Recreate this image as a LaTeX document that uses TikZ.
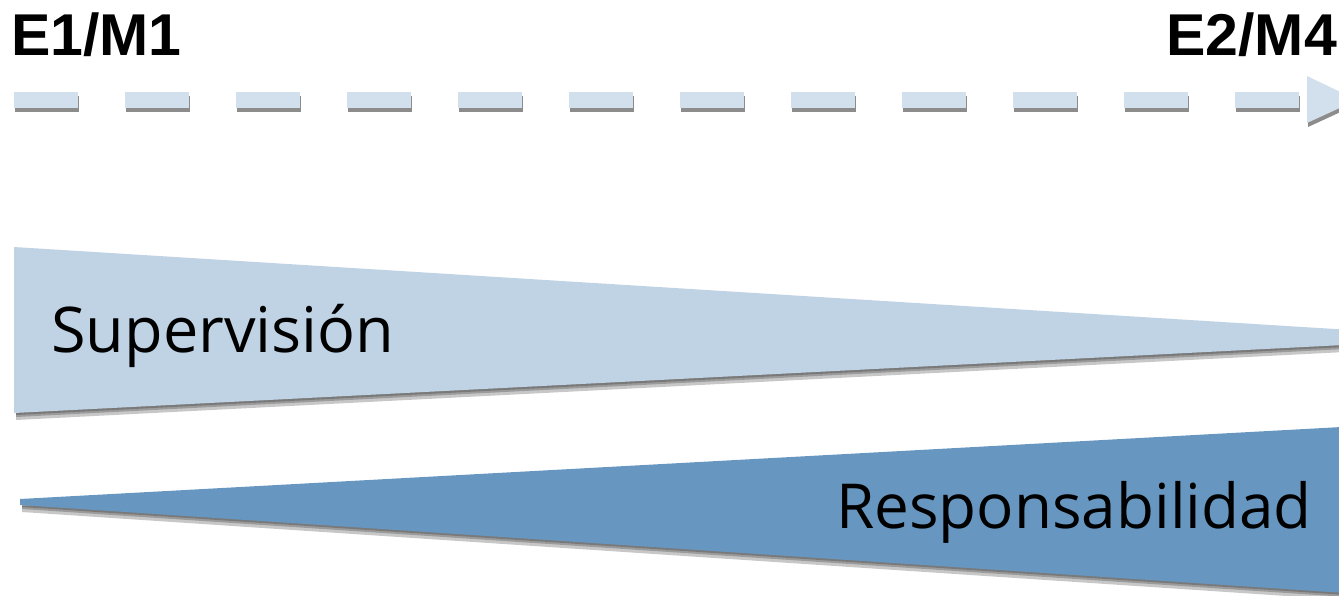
\documentclass[tikz,border=0pt]{standalone}
\usepackage{fontspec}
\setmainfont{Open Sans}
\newfontfamily\headfont{Liberation Sans}
\definecolor{lightblu}{RGB}{192,211,228}
\definecolor{dashblu}{RGB}{210,223,236}
\definecolor{darkblu}{RGB}{103,151,192}
\begin{document}
\begin{tikzpicture}[x=1pt,y=-1pt,
  shadowfill/.style={fill=black,opacity=0.22},
  headlabel/.style={inner sep=0pt,font=\headfont\bfseries\fontsize{59}{59}\selectfont},
  dashline/.style={line width=16pt,dash pattern=on 64pt off 47pt}]
\useasboundingbox (0,0) rectangle (1339,595);
\clip (0,0) rectangle (1339,595);
% timeline arrow
\coordinate (as) at (14,100);
\coordinate (ae) at (1300,100);
\coordinate (tipA) at (1307,76);
\coordinate (tipB) at (1357,100);
\coordinate (tipC) at (1307,123);
\draw[dashline,black!45] ([shift={(1,4)}]as) -- ([shift={(1,4)}]ae);
\fill[black!45] ([shift={(1,4)}]tipA) -- ([shift={(1,4)}]tipB) -- ([shift={(1,4)}]tipC) -- cycle;
\draw[dashline,dashblu] (as) -- (ae);
\fill[dashblu] (tipA) -- (tipB) -- (tipC) -- cycle;
% supervision wedge
\foreach \dy in {2,4,7}{
\begin{scope}[shift={(2,\dy)}]
  \fill[shadowfill] (14,247) -- (1480,338) -- (14,413) -- cycle;
\end{scope}}
\fill[lightblu] (14,247) -- (1480,338) -- (14,413) -- cycle;
% responsabilidad wedge
\foreach \dy in {2,4,7}{
\begin{scope}[shift={(2,\dy)}]
  \fill[shadowfill] (20,499) -- (1360,426) -- (1360,594) -- (20,505) -- cycle;
\end{scope}}
\fill[darkblu] (20,499) -- (1360,426) -- (1360,594) -- (20,505) -- cycle;
% labels
\node[headlabel,anchor=base west] (e1) at (11,55) {E1/M1};
\node[headlabel,anchor=base east] (e2) at (1337,55) {E2/M4};
\node[inner sep=0pt,font=\fontsize{63}{63}\selectfont,anchor=base west] (sup) at (51,352) {Supervisión};
\node[inner sep=0pt,font=\fontsize{62}{62}\selectfont,anchor=base west] (resp) at (836,528) {Responsabilidad};
\end{tikzpicture}
\end{document}
